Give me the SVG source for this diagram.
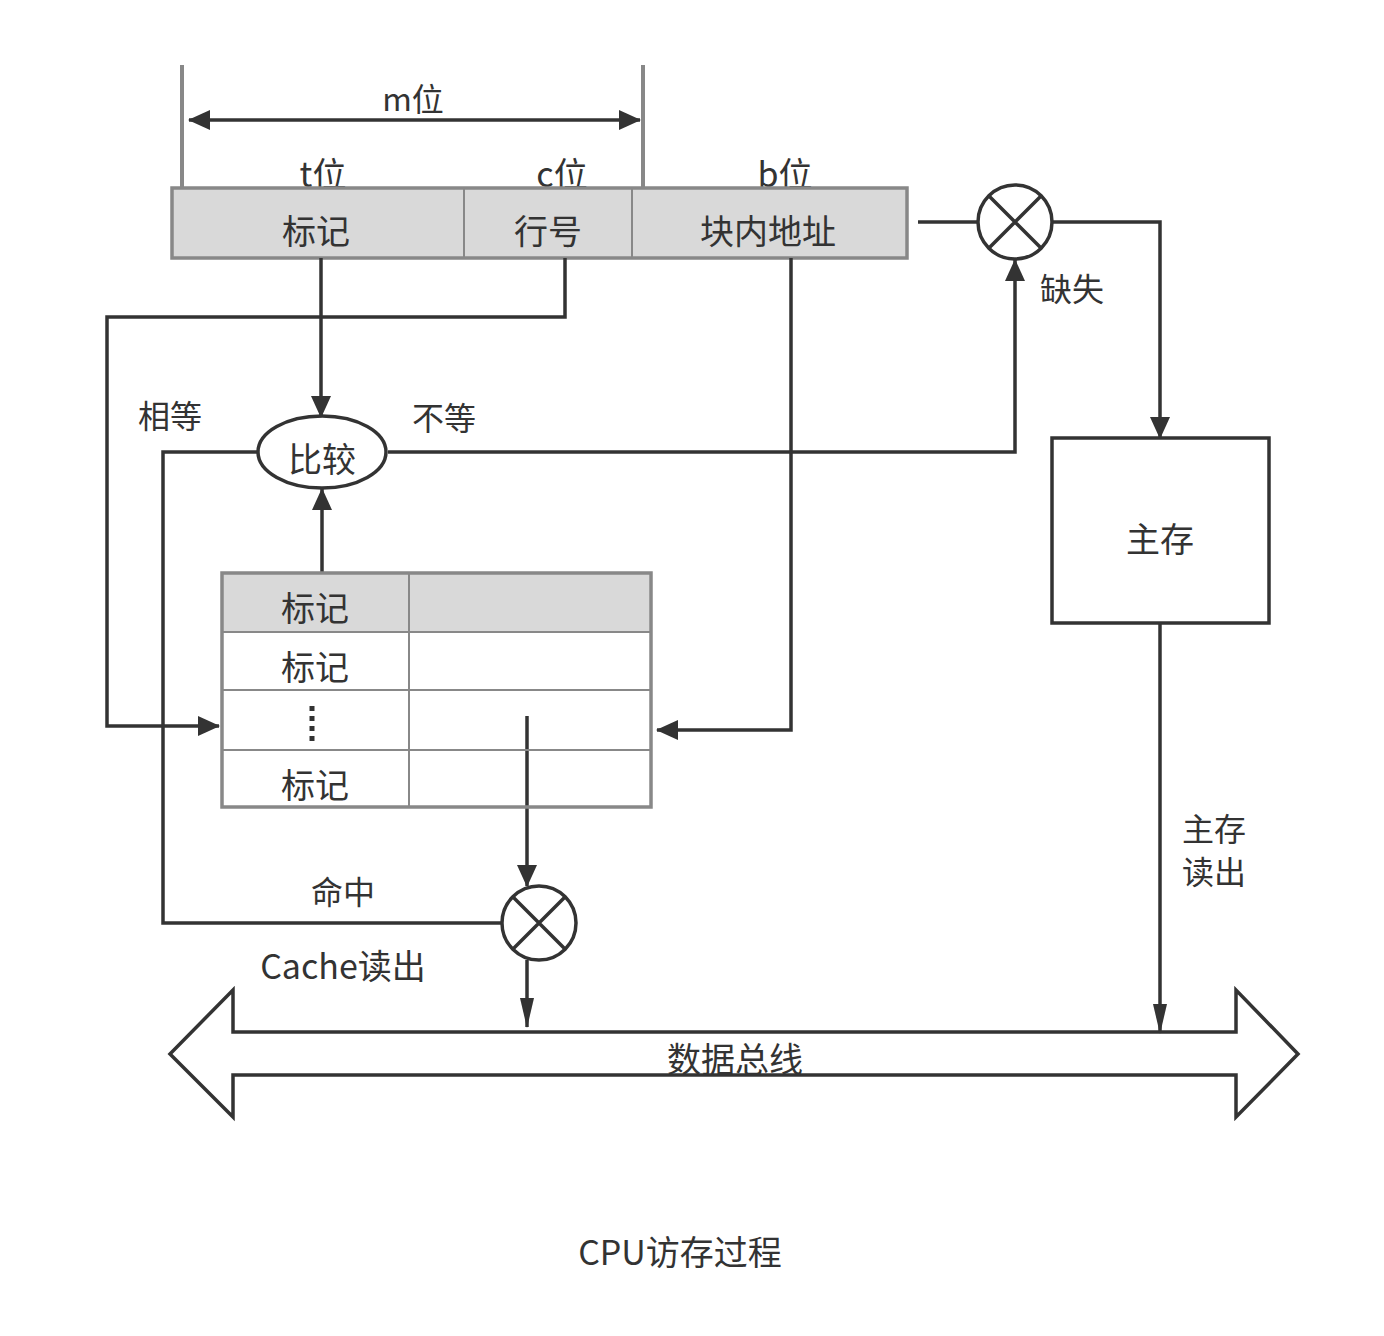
<svg xmlns="http://www.w3.org/2000/svg" width="1384" height="1336" viewBox="0 0 1384 1336">
<style>
text{font-family:"Noto Sans CJK SC","Noto Sans",sans-serif;fill:#333;text-anchor:middle;dominant-baseline:central}
.t34{font-size:34px}
.t32{font-size:32px}
.ln{fill:none;stroke:#333;stroke-width:3.5}
.gray{fill:#d9d9d9;stroke:#888;stroke-width:3.5}
.thin{stroke:#888;stroke-width:2}
</style>
<defs>
<marker id="ah" markerUnits="userSpaceOnUse" markerWidth="22" markerHeight="20" viewBox="0 0 22 20" refX="21" refY="10" orient="auto-start-reverse">
<path d="M0,0 L22,10 L0,20 z" fill="#333"/>
</marker>
<marker id="ahn" markerUnits="userSpaceOnUse" markerWidth="30" markerHeight="16" viewBox="0 0 30 16" refX="29" refY="8" orient="auto">
<path d="M0,1 L30,8 L0,15 z" fill="#333"/>
</marker>
</defs>
<rect width="1384" height="1336" fill="#fff"/>

<g id="width-marks">
<line x1="182" y1="65" x2="182" y2="188" stroke="#888" stroke-width="4"/>
<line x1="643" y1="65" x2="643" y2="188" stroke="#888" stroke-width="4"/>
<line x1="189" y1="120" x2="640" y2="120" class="ln" stroke-width="4" marker-start="url(#ah)" marker-end="url(#ah)"/>
<text x="413" y="97" class="t32">m位</text>
<text x="323" y="172" class="t34">t位</text>
<text x="562" y="172" class="t34">c位</text>
<text x="785" y="172" class="t34">b位</text>
</g>

<g id="address">
<rect x="172" y="188" width="735" height="70" class="gray"/>
<line x1="464" y1="188" x2="464" y2="258" class="thin"/>
<line x1="632" y1="188" x2="632" y2="258" class="thin"/>
<text x="316" y="229" class="t34">标记</text>
<text x="548" y="229" class="t34">行号</text>
<text x="768" y="229" class="t34">块内地址</text>
</g>

<g id="connectors">
<path d="M321,258 V417" class="ln" marker-end="url(#ah)"/>
<path d="M565,258 V317 H107 V726 H219" class="ln" marker-end="url(#ah)"/>
<path d="M791,258 V730 H657" class="ln" marker-end="url(#ah)"/>
<path d="M918,222 H978" class="ln"/>
<path d="M1052,222 H1160 V438" class="ln" marker-end="url(#ah)"/>
<path d="M388,452 H1015 V260" class="ln" marker-end="url(#ah)"/>
<path d="M258,452 H163 V923 H502" class="ln"/>
<path d="M322,573 V489" class="ln" marker-end="url(#ah)"/>
<path d="M527,716 V886" class="ln" marker-end="url(#ah)"/>
<path d="M527,960 V1027" class="ln" marker-end="url(#ahn)"/>
<path d="M1160,623 V1033" class="ln" marker-end="url(#ahn)"/>
</g>

<g id="labels">
<text x="1072" y="287" class="t32">缺失</text>
<text x="170" y="414" class="t32">相等</text>
<text x="444" y="416" class="t32">不等</text>
<text x="343" y="890" class="t32">命中</text>
<text x="343" y="964" class="t34">Cache读出</text>
<text x="1214" y="827" class="t32">主存</text>
<text x="1214" y="870" class="t32">读出</text>
</g>

<g id="mux-miss">
<circle cx="1015" cy="222" r="37" class="ln" fill="#fff"/>
<path d="M989,196 L1041,248 M1041,196 L989,248" class="ln"/>
</g>

<g id="compare">
<ellipse cx="322" cy="452" rx="64" ry="36" class="ln" fill="#fff"/>
<text x="322" y="457" class="t34">比较</text>
</g>

<g id="cache-table">
<rect x="222" y="573" width="429" height="59" fill="#d9d9d9"/>
<rect x="222" y="573" width="429" height="234" fill="none" stroke="#888" stroke-width="3.5"/>
<line x1="222" y1="632" x2="651" y2="632" class="thin"/>
<line x1="222" y1="690" x2="651" y2="690" class="thin"/>
<line x1="222" y1="750" x2="651" y2="750" class="thin"/>
<line x1="409" y1="573" x2="409" y2="807" class="thin"/>
<text x="315" y="606" class="t34">标记</text>
<text x="315" y="665" class="t34">标记</text>
<line x1="312" y1="706" x2="312" y2="746" stroke="#333" stroke-width="5" stroke-dasharray="5,5"/>
<text x="315" y="783" class="t34">标记</text>
</g>

<g id="mux-hit">
<circle cx="539" cy="923" r="37" class="ln" fill="#fff"/>
<path d="M513,897 L565,949 M565,897 L513,949" class="ln"/>
</g>

<g id="main-memory">
<rect x="1052" y="438" width="217" height="185" class="ln" fill="#fff"/>
<text x="1160" y="537" class="t34">主存</text>
</g>

<g id="data-bus">
<path d="M170,1054 L233,990 V1032 H1236 V990 L1298,1054 L1236,1117 V1075 H233 V1117 Z" class="ln" fill="#fff"/>
<text x="735" y="1057" class="t34">数据总线</text>
</g>

<text x="680" y="1250" class="t34">CPU访存过程</text>
</svg>
